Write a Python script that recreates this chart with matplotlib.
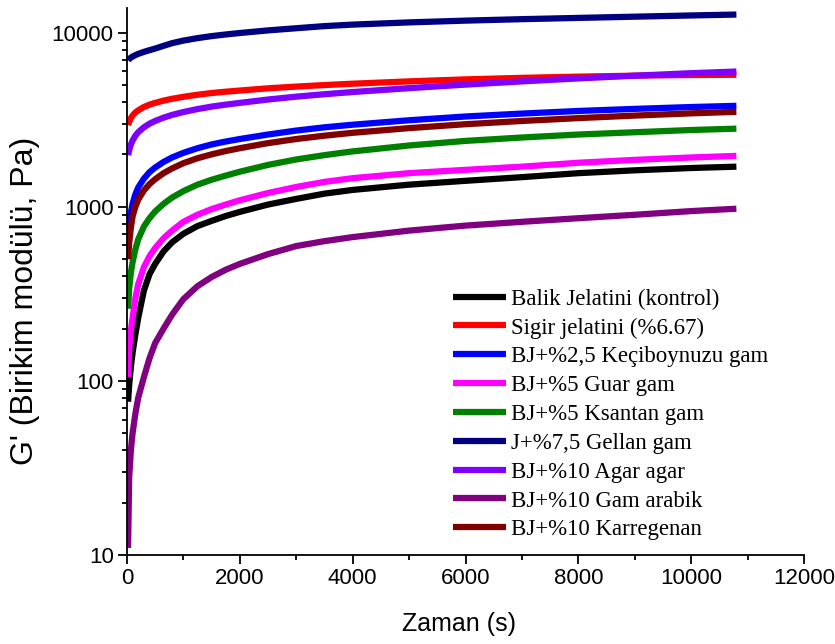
"""
G' (storage modulus) vs time for gelatin / gum blends, log y axis.
"""
import matplotlib
matplotlib.use("Agg")
import matplotlib.pyplot as plt
from matplotlib.ticker import FixedLocator, LogLocator, NullFormatter, MultipleLocator

# time points (s)
zaman = [20, 40, 70, 100, 150, 200, 300, 400, 500, 650, 800, 1000, 1250, 1500, 1750,
         2000, 2500, 3000, 3500, 4000, 5000, 6000, 7000, 8000, 9000, 10000, 10800]

# G' values (Pa)
balik = [76, 95, 120, 145, 185, 230, 330, 410, 470, 555, 625, 700, 775, 830, 885,
         935, 1030, 1110, 1190, 1250, 1340, 1410, 1480, 1560, 1620, 1670, 1700]
sigir = [2950, 3080, 3230, 3340, 3480, 3580, 3740, 3860, 3950, 4070, 4170, 4280, 4400, 4500, 4580,
         4650, 4790, 4900, 5000, 5090, 5250, 5390, 5500, 5590, 5660, 5710, 5730]
keciboynuzu = [700, 800, 930, 1040, 1180, 1290, 1450, 1580, 1680, 1810, 1920, 2040, 2170, 2280, 2370,
               2450, 2600, 2740, 2860, 2960, 3140, 3300, 3430, 3550, 3650, 3740, 3800]
guar = [105, 150, 195, 230, 300, 360, 450, 520, 580, 660, 730, 820, 900, 970, 1030,
        1090, 1200, 1300, 1390, 1460, 1560, 1630, 1700, 1790, 1860, 1920, 1960]
ksantan = [260, 340, 420, 480, 570, 650, 770, 860, 940, 1040, 1130, 1230, 1340, 1430, 1510,
           1590, 1740, 1870, 1980, 2080, 2250, 2390, 2500, 2600, 2680, 2760, 2810]
gellan = [6950, 7060, 7190, 7290, 7430, 7550, 7750, 7930, 8100, 8400, 8700, 9000, 9300, 9550, 9760,
          9950, 10300, 10600, 10900, 11120, 11450, 11720, 11950, 12150, 12350, 12550, 12700]
agar = [1980, 2120, 2280, 2400, 2560, 2680, 2860, 3000, 3110, 3250, 3370, 3500, 3640, 3760, 3860,
        3950, 4130, 4290, 4430, 4560, 4800, 5030, 5250, 5460, 5660, 5850, 5980]
arabik = [11, 28, 40, 50, 65, 80, 105, 135, 165, 200, 240, 295, 350, 395, 435,
          470, 535, 595, 635, 670, 730, 780, 820, 860, 900, 945, 975]
karregenan = [500, 620, 760, 880, 1000, 1100, 1240, 1350, 1440, 1560, 1660, 1780, 1900, 2000, 2090,
              2170, 2320, 2450, 2560, 2660, 2830, 2980, 3110, 3230, 3340, 3440, 3510]

seriler = [
    (balik, "Balik Jelatini (kontrol)", "#000000"),
    (sigir, "Sigir jelatini (%6.67)", "#ff0000"),
    (keciboynuzu, "BJ+%2,5 Keçiboynuzu gam", "#0000ff"),
    (guar, "BJ+%5 Guar gam", "#ff00ff"),
    (ksantan, "BJ+%5 Ksantan gam", "#008000"),
    (gellan, "J+%7,5 Gellan gam", "#000080"),
    (agar, "BJ+%10 Agar agar", "#8000ff"),
    (arabik, "BJ+%10 Gam arabik", "#800080"),
    (karregenan, "BJ+%10 Karregenan", "#800000"),
]

fig = plt.figure(figsize=(8.35, 6.44), dpi=100)
ax = fig.add_axes([0.152, 0.138, 0.811, 0.85])

for degerler, etiket, renk in seriler:
    ax.plot(zaman, degerler, color=renk, lw=4.5, label=etiket, solid_capstyle="butt")

ax.set_yscale("log")
ax.set_xlim(0, 12000)
ax.set_ylim(10, 13900)

ax.xaxis.set_major_locator(MultipleLocator(2000))
ax.xaxis.set_minor_locator(MultipleLocator(1000))
ax.yaxis.set_major_locator(FixedLocator([10, 100, 1000, 10000]))
ax.yaxis.set_minor_locator(LogLocator(base=10, subs=range(2, 10)))
ax.yaxis.set_minor_formatter(NullFormatter())
ax.set_yticklabels(["10", "100", "1000", "10000"])

for s in ["top", "right"]:
    ax.spines[s].set_visible(False)
for s in ["left", "bottom"]:
    ax.spines[s].set_linewidth(1.3)

ax.tick_params(which="major", direction="out", length=6.5, width=1.3, labelsize=16, pad=3)
ax.tick_params(which="minor", direction="out", length=3.5, width=1.3)
for lab in ax.get_xticklabels() + ax.get_yticklabels():
    lab.set_family("Liberation Sans")

ax.set_xlabel("Zaman (s)", fontsize=18, family="Liberation Sans")
ax.set_ylabel("G' (Birikim modülü, Pa)", fontsize=23, family="Liberation Sans")
ax.xaxis.set_label_coords(0.49, -0.104)
ax.yaxis.set_label_coords(-0.128, 0.464)

ax.legend(loc="lower left", bbox_to_anchor=(0.4815, 0.027), frameon=False,
          borderpad=0, borderaxespad=0,
          prop={"family": "Liberation Serif", "size": 16.5},
          handlelength=2.3, handletextpad=0.25, labelspacing=0.34)

fig.savefig("out.png", dpi=100)
